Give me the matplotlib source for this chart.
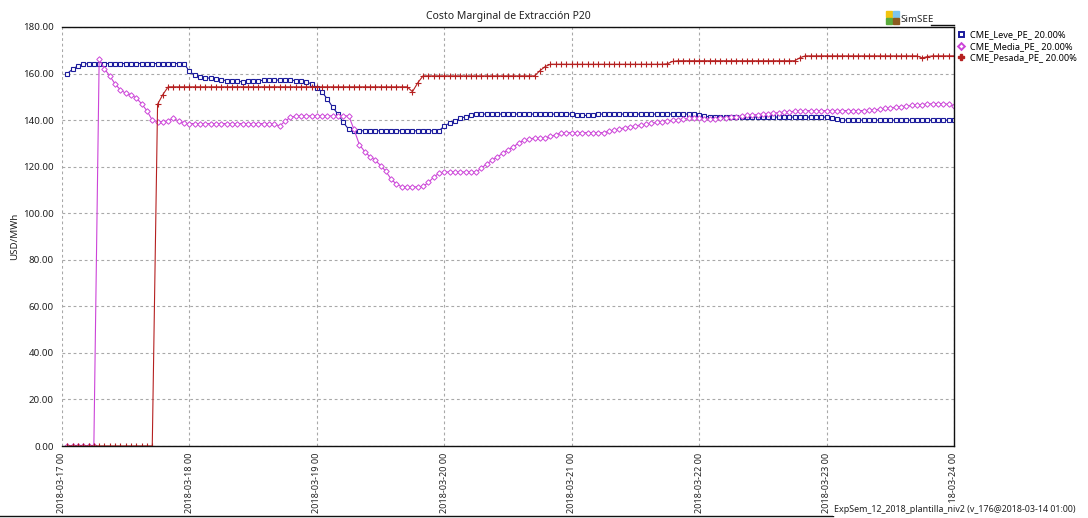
import matplotlib
matplotlib.use("Agg")
import matplotlib.pyplot as plt
import matplotlib.dates as mdates
from matplotlib.patches import Rectangle
from matplotlib.lines import Line2D
import pandas as pd

plt.rcParams['font.family'] = ['Noto Sans', 'DejaVu Sans']

title = "Costo Marginal de Extracción P20"
ylabel = "USD/MWh"
footer = "ExpSem_12_2018_plantilla_niv2 (v_176@2018-03-14 01:00)"
series_names = ["CME_Leve_PE_ 20.00%", "CME_Media_PE_ 20.00%", "CME_Pesada_PE_ 20.00%"]

# hourly values, hour-end stamps 2018-03-17 01:00 ... 2018-03-24 00:00
leve = [
    160.0, 161.9, 163.3, 164.0, 164.3, 164.3, 164.3, 164.3, 164.3, 164.3, 164.3, 164.3,
    164.3, 164.3, 164.3, 164.3, 164.3, 164.3, 164.3, 164.3, 164.3, 164.3, 164.3, 160.9,
    159.3, 158.5, 158.2, 158.0, 157.6, 157.3, 157.0, 156.8, 156.6, 156.5, 156.7, 156.8,
    157.0, 157.1, 157.2, 157.2, 157.2, 157.2, 157.2, 157.0, 157.0, 156.5, 155.5, 154.0,
    152.0, 149.0, 145.5, 142.5, 139.0, 136.0, 135.4, 135.4, 135.4, 135.4, 135.4, 135.4,
    135.4, 135.4, 135.4, 135.4, 135.4, 135.4, 135.4, 135.4, 135.4, 135.4, 135.4, 137.5,
    138.7, 139.7, 140.7, 141.5, 142.3, 142.6, 142.6, 142.6, 142.6, 142.6, 142.6, 142.6,
    142.6, 142.6, 142.6, 142.6, 142.6, 142.6, 142.6, 142.6, 142.6, 142.6, 142.6, 142.6,
    142.2, 142.0, 142.0, 142.2, 142.6, 142.6, 142.6, 142.6, 142.6, 142.6, 142.6, 142.6,
    142.6, 142.6, 142.6, 142.6, 142.6, 142.6, 142.6, 142.6, 142.6, 142.6, 142.6, 142.3,
    141.8, 141.3, 141.3, 141.3, 141.3, 141.3, 141.3, 141.3, 141.3, 141.3, 141.3, 141.3,
    141.3, 141.3, 141.3, 141.3, 141.3, 141.3, 141.3, 141.3, 141.3, 141.3, 141.3, 141.3,
    140.7, 140.3, 140.0, 140.0, 140.0, 140.0, 140.0, 140.0, 140.0, 140.0, 140.0, 140.0,
    140.0, 140.0, 140.0, 140.0, 140.0, 140.0, 140.0, 140.0, 140.0, 140.0, 140.0, 140.0,
]

media = [
    0.0, 0.0, 0.0, 0.0, 0.0, 0.0, 166.2, 162.0, 159.0, 155.5, 153.0, 151.5,
    150.8, 149.5, 147.0, 144.0, 140.0, 139.4, 139.4, 139.6, 140.8, 139.5, 138.6, 138.5,
    138.5, 138.5, 138.5, 138.5, 138.5, 138.5, 138.5, 138.5, 138.5, 138.5, 138.5, 138.5,
    138.5, 138.5, 138.5, 138.2, 137.5, 139.5, 141.2, 141.7, 141.8, 141.8, 141.8, 141.8,
    141.8, 141.8, 141.8, 141.8, 141.8, 141.8, 136.0, 129.5, 126.5, 124.3, 122.8, 120.5,
    118.0, 114.6, 112.5, 111.3, 111.3, 111.3, 111.3, 111.5, 113.2, 115.5, 117.2, 117.7,
    117.7, 117.7, 117.7, 117.7, 117.7, 117.7, 119.4, 121.2, 122.7, 124.2, 125.7, 127.2,
    128.5, 130.1, 131.3, 132.0, 132.2, 132.2, 132.2, 133.0, 133.7, 134.5, 134.6, 134.6,
    134.6, 134.6, 134.6, 134.6, 134.6, 134.6, 135.2, 135.8, 136.2, 136.7, 137.1, 137.5,
    137.9, 138.3, 138.6, 139.0, 139.3, 139.6, 139.9, 140.2, 140.4, 140.7, 141.0, 140.8,
    140.5, 140.5, 140.6, 140.8, 141.0, 141.3, 141.5, 141.8, 142.0, 142.2, 142.4, 142.6,
    142.8, 143.0, 143.2, 143.4, 143.6, 143.8, 143.9, 144.0, 144.1, 144.1, 144.1, 144.1,
    144.1, 144.1, 144.1, 144.1, 144.1, 144.1, 144.1, 144.2, 144.4, 144.7, 145.0, 145.3,
    145.5, 145.8, 146.0, 146.3, 146.5, 146.7, 146.9, 147.0, 147.1, 147.0, 146.8, 146.1,
]

pesada = [
    0.0, 0.0, 0.0, 0.0, 0.0, 0.0, 0.0, 0.0, 0.0, 0.0, 0.0, 0.0,
    0.0, 0.0, 0.0, 0.0, 0.0, 146.8, 151.0, 154.3, 154.3, 154.3, 154.3, 154.3,
    154.3, 154.3, 154.3, 154.3, 154.3, 154.3, 154.3, 154.3, 154.3, 154.3, 154.3, 154.3,
    154.3, 154.3, 154.3, 154.3, 154.3, 154.3, 154.3, 154.3, 154.3, 154.3, 154.3, 154.3,
    154.3, 154.3, 154.3, 154.3, 154.3, 154.3, 154.3, 154.3, 154.3, 154.3, 154.3, 154.3,
    154.3, 154.3, 154.3, 154.3, 154.3, 152.2, 156.0, 159.0, 159.0, 159.0, 159.0, 159.0,
    159.0, 159.0, 159.0, 159.0, 159.0, 159.0, 159.0, 159.0, 159.0, 159.0, 159.0, 159.0,
    159.0, 159.0, 159.0, 159.0, 159.0, 161.2, 163.0, 164.0, 164.0, 164.0, 164.0, 164.0,
    164.0, 164.0, 164.0, 164.0, 164.0, 164.0, 164.0, 164.0, 164.0, 164.0, 164.0, 164.0,
    164.0, 164.0, 164.0, 164.0, 164.0, 164.2, 165.2, 165.5, 165.5, 165.5, 165.5, 165.5,
    165.5, 165.5, 165.5, 165.5, 165.5, 165.5, 165.5, 165.5, 165.5, 165.5, 165.5, 165.5,
    165.5, 165.5, 165.5, 165.5, 165.5, 165.5, 166.8, 167.6, 167.6, 167.6, 167.6, 167.6,
    167.6, 167.6, 167.6, 167.6, 167.6, 167.6, 167.6, 167.6, 167.6, 167.6, 167.6, 167.6,
    167.6, 167.6, 167.6, 167.6, 167.6, 166.7, 167.3, 167.6, 167.6, 167.6, 167.6, 167.6,
]

yticks = [0, 20, 40, 60, 80, 100, 120, 140, 160, 180]
x_start = "2018-03-17 00:00"
x_end = "2018-03-24 00:00"

times = pd.date_range("2018-03-17 01:00", periods=len(leve), freq="h")

W, H = 1088, 518
fig = plt.figure(figsize=(W / 100, H / 100), dpi=100, facecolor="white")
ax = fig.add_axes([62 / W, 1 - 446 / H, (954 - 62) / W, (446 - 27) / H])

C_LEVE, C_MEDIA, C_PESADA = "#1c1c9c", "#cc44d8", "#b52020"

ax.plot(times, leve, color=C_LEVE, lw=0.8, marker="s", ms=3.0, mfc="white",
        mec=C_LEVE, mew=0.8, label=series_names[0])
ax.plot(times, media, color=C_MEDIA, lw=0.8, marker="D", ms=2.8, mfc="white",
        mec=C_MEDIA, mew=0.7, label=series_names[1])
ax.plot(times, pesada, color=C_PESADA, lw=0.8, marker="+", ms=4.5,
        mec=C_PESADA, mew=0.8, label=series_names[2])

ax.set_xlim(pd.Timestamp(x_start), pd.Timestamp(x_end))
ax.set_ylim(0, 180)
ax.set_yticks(yticks)
ax.set_yticklabels([f"{v:.2f}" for v in yticks])
ax.xaxis.set_major_locator(mdates.DayLocator())
ax.xaxis.set_major_formatter(mdates.DateFormatter("%Y-%m-%d %H"))
for lab in ax.get_xticklabels():
    lab.set_rotation(90)
ax.tick_params(axis="both", length=0, colors="#222222")
ax.tick_params(axis="y", pad=6, labelsize=7)
ax.tick_params(axis="x", pad=5, labelsize=6.5)

ax.grid(True, color="#a8a8a8", linestyle=(0, (2.5, 2.5)), linewidth=0.8)
ax.spines["left"].set_visible(False)
for s in ("top", "right", "bottom"):
    ax.spines[s].set_color("#111111")
    ax.spines[s].set_linewidth(1.0)

ax.set_title(title, fontsize=7.5, pad=6, color="#222222")
ax.set_ylabel(ylabel, fontsize=7, color="#222222", labelpad=3)

handles = [
    Line2D([], [], ls="none", marker="s", ms=3.6, mfc="white", mec=C_LEVE, mew=1.4),
    Line2D([], [], ls="none", marker="D", ms=3.4, mfc="white", mec=C_MEDIA, mew=1.4),
    Line2D([], [], ls="none", marker="P", ms=4.5, color=C_PESADA),
]
fig.legend(handles, series_names, loc="upper left", bbox_to_anchor=(957 / W, 1 - 30 / H),
           frameon=False, fontsize=6.6, handlelength=0.8, handletextpad=0.6,
           labelspacing=0.3, borderaxespad=0, borderpad=0)

# SimSEE logo
def fig_rect(x, y, w, h, c):
    fig.patches.append(Rectangle((x / W, 1 - (y + h) / H), w / W, h / H,
                                 transform=fig.transFigure, color=c, zorder=5))

fig_rect(886, 11, 6, 6, "#f2c40f")
fig_rect(892.5, 11, 6, 6, "#7cc4ee")
fig_rect(886, 17.5, 6, 6, "#5aab3c")
fig_rect(892.5, 17.5, 6, 6, "#8b5a1e")
fig.text(900 / W, 1 - 19 / H, "SimSEE", fontsize=7, color="#222222", va="center", ha="left")
fig.add_artist(Line2D([931 / W, 954 / W], [1 - 25 / H, 1 - 25 / H], color="#111111",
                      lw=1.0, transform=fig.transFigure))

# footer
fig.add_artist(Line2D([0, 833 / W], [1 - 515.5 / H, 1 - 515.5 / H], color="#111111",
                      lw=1.0, transform=fig.transFigure))
fig.text(834 / W, 1 - 510 / H, footer, fontsize=6.4, color="#222222", va="center", ha="left",
         bbox=dict(facecolor="white", edgecolor="none", pad=0.8))

fig.savefig("out.png", dpi=100, facecolor="white")
